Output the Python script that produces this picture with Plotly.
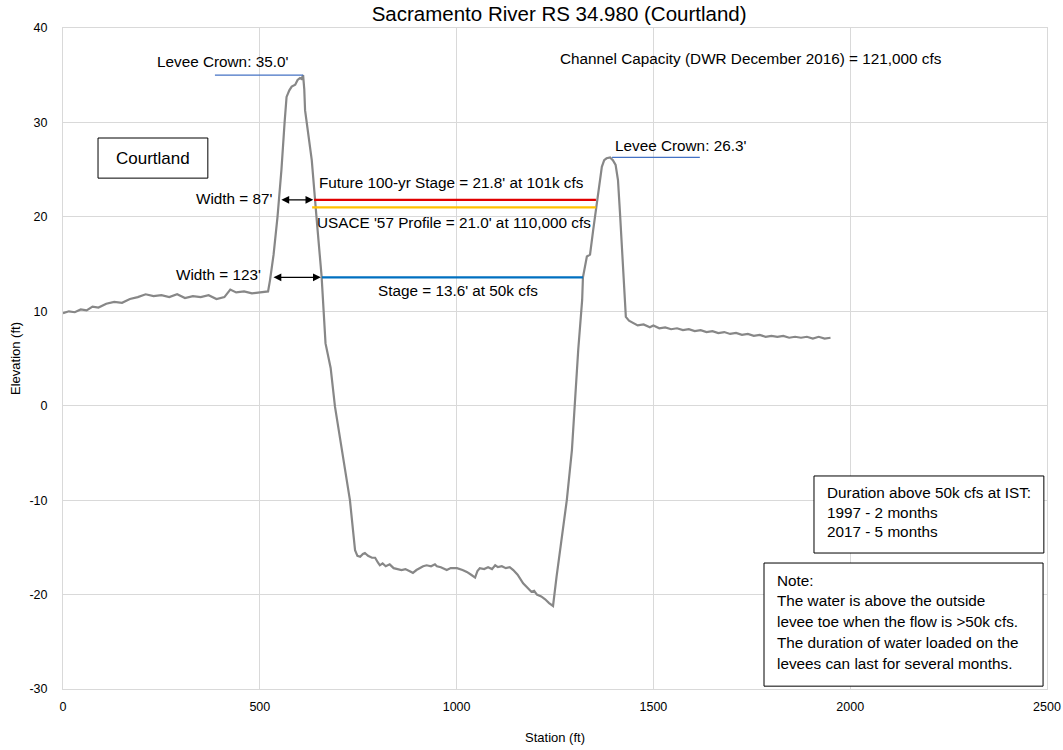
import plotly.graph_objects as go

# cross-section survey (station ft, elevation ft)
station = [0, 15, 30, 45, 60, 75, 90, 110, 130, 150, 170, 190, 210, 230, 250, 270, 290, 310, 330, 350,
           370, 390, 410, 425, 440, 460, 480, 500, 521,
           526, 535, 545, 555, 563, 568, 575, 581, 590, 596, 602, 606, 610, 613, 615, 622, 632, 645, 657, 667,
           680, 691, 710, 729, 742, 748, 755, 762, 767, 775, 785, 793, 800, 805, 812, 820, 830, 840, 850, 860,
           870, 880, 889, 898, 905, 915, 924, 935, 945, 950, 960, 975, 985, 1001, 1015, 1026, 1037, 1047, 1053,
           1059, 1070, 1080, 1090, 1098, 1105, 1115, 1125, 1135, 1144, 1155, 1169, 1180, 1190, 1197, 1204, 1215,
           1225, 1235, 1245, 1254, 1265, 1280, 1293, 1301, 1309, 1319, 1321, 1331, 1339, 1347, 1356, 1362, 1369,
           1375, 1381, 1390, 1397, 1404, 1410, 1415, 1420, 1425, 1430, 1438, 1448, 1460, 1475, 1491, 1500, 1515,
           1530, 1545, 1560, 1575, 1590, 1605, 1620, 1635, 1650, 1665, 1680, 1695, 1710, 1725, 1740, 1755, 1770,
           1785, 1800, 1815, 1830, 1845, 1860, 1875, 1890, 1905, 1920, 1935, 1950]
elevation = [9.8, 10.0, 9.9, 10.2, 10.1, 10.5, 10.4, 10.8, 11.0, 10.9, 11.3, 11.5, 11.8, 11.6, 11.7, 11.5, 11.8, 11.4, 11.6, 11.5,
             11.7, 11.3, 11.5, 12.3, 12.0, 12.1, 11.9, 12.0, 12.1,
             13.3, 16.0, 20.0, 25.0, 30.0, 32.7, 33.4, 33.8, 34.0, 34.5, 34.7, 34.6, 35.0, 33.5, 31.3, 29.0, 26.0, 19.5, 13.7, 6.6,
             4.0, -0.1, -5.0, -10.0, -15.3, -15.9, -16.0, -15.7, -15.6, -15.9, -16.1, -16.1, -16.6, -16.9, -16.7, -17.0, -16.8, -17.2, -17.3, -17.4,
             -17.3, -17.5, -17.7, -17.4, -17.2, -17.0, -16.9, -17.0, -16.8, -17.0, -17.1, -17.4, -17.2, -17.2, -17.4, -17.6, -17.9, -18.2, -17.5,
             -17.2, -17.3, -17.1, -17.3, -16.9, -17.1, -17.0, -17.2, -17.1, -17.4, -17.9, -18.8, -19.3, -19.7, -19.6, -20.0, -20.2,
             -20.5, -20.9, -21.2, -18.1, -14.5, -10.0, -4.7, 0.6, 5.9, 11.2, 13.6, 15.8, 16.0, 18.6, 21.5, 23.5, 25.3,
             26.0, 26.2, 26.3, 26.0, 25.5, 23.9, 20.5, 16.8, 13.0, 9.4, 9.0, 8.8, 8.5, 8.6, 8.3, 8.5, 8.2,
             8.3, 8.1, 8.2, 8.0, 8.1, 7.9, 8.0, 7.8, 7.9, 7.7, 7.8, 7.6, 7.7, 7.5, 7.6, 7.4, 7.5,
             7.3, 7.4, 7.3, 7.4, 7.2, 7.3, 7.2, 7.3, 7.1, 7.3, 7.1, 7.2]

# reference lines
left_crown_x = [386, 610]
left_crown_y = [35.0, 35.0]
right_crown_x = [1395, 1618]
right_crown_y = [26.3, 26.3]
future_x = [638, 1354]
future_y = [21.8, 21.8]
usace_x = [633, 1354]
usace_y = [21.0, 21.0]
stage_x = [658, 1321]
stage_y = [13.6, 13.6]

# axis ticks (plain hyphen minus like the original)
y_ticks = [-30, -20, -10, 0, 10, 20, 30, 40]
y_tick_text = ["-30", "-20", "-10", "0", "10", "20", "30", "40"]

FONT = "Liberation Sans"
TXT = 15.3

fig = go.Figure()
fig.add_trace(go.Scatter(x=station, y=elevation, mode="lines",
                         line=dict(color="#878787", width=2.2)))
fig.add_trace(go.Scatter(x=left_crown_x, y=left_crown_y, mode="lines", line=dict(color="#4472C4", width=1.2)))
fig.add_trace(go.Scatter(x=right_crown_x, y=right_crown_y, mode="lines", line=dict(color="#4472C4", width=1.2)))
fig.add_trace(go.Scatter(x=future_x, y=future_y, mode="lines", line=dict(color="#E00000", width=2.2)))
fig.add_trace(go.Scatter(x=usace_x, y=usace_y, mode="lines", line=dict(color="#FFC000", width=2.2)))
fig.add_trace(go.Scatter(x=stage_x, y=stage_y, mode="lines", line=dict(color="#0070C0", width=2.2)))

def note(x, y, text, anchor="left", size=TXT):
    fig.add_annotation(x=x, y=y, xref="x", yref="y", text=text, showarrow=False,
                       xanchor=anchor, yanchor="middle",
                       font=dict(family=FONT, size=size, color="#000000"))

note(406, 36.4, "Levee Crown: 35.0'", "center")
note(1397, 27.6, "Levee Crown: 26.3'", "left")
note(1748, 36.8, "Channel Capacity (DWR December 2016) = 121,000 cfs", "center")
note(538, 21.9, "Width = 87'", "right")
note(646, 23.6, "Future 100-yr Stage = 21.8' at 101k cfs", "left")
note(641, 19.45, "USACE '57 Profile = 21.0' at 110,000 cfs", "left")
note(508, 13.85, "Width = 123'", "right")
note(795, 12.15, "Stage = 13.6' at 50k cfs", "left")

# double-headed width arrows
for x0, x1, y in [(551, 636, 21.8), (531, 655, 13.6)]:
    fig.add_annotation(x=x1, y=y, ax=x0, ay=y, xref="x", yref="y", axref="x", ayref="y",
                       text="", showarrow=True, arrowhead=2, arrowside="end+start",
                       arrowsize=1.3, arrowwidth=1.2, arrowcolor="#000000")

# text boxes
fig.add_shape(type="rect", x0=89, x1=368, y0=24.1, y1=28.35, line=dict(color="#000000", width=1))
note(229, 26.2, "Courtland", "center", 17)

fig.add_shape(type="rect", x0=1908, x1=2492, y0=-15.6, y1=-7.44,
              line=dict(color="#000000", width=1), fillcolor="white")
for y, t in zip([-9.14, -11.26, -13.37],
                ["Duration above 50k cfs at IST:", "1997 - 2 months", "2017 - 5 months"]):
    note(1936, y, t)

fig.add_shape(type="rect", x0=1781, x1=2490, y0=-29.7, y1=-16.66,
              line=dict(color="#000000", width=1), fillcolor="white")
for y, t in zip([-18.46, -20.68, -22.9, -25.1, -27.35],
                ["Note:", "The water is above the outside", "levee toe when the flow is >50k cfs.",
                 "The duration of water loaded on the", "levees can last for several months."]):
    note(1809, y, t)

fig.update_layout(
    width=1063, height=750,
    margin=dict(l=63, r=16, t=28, b=61, autoexpand=False),
    paper_bgcolor="white", plot_bgcolor="white",
    showlegend=False,
    title=dict(text="Sacramento River RS 34.980 (Courtland)", x=0.526, xanchor="center",
               y=0.981, yanchor="middle", font=dict(family=FONT, size=20.5, color="#000000")),
    font=dict(family=FONT, color="#404040"),
)
fig.update_xaxes(range=[0, 2500], dtick=500, tick0=0, showgrid=True, gridcolor="#D9D9D9",
                 zeroline=False, showline=True, linecolor="#D9D9D9", mirror=True, automargin=False,
                 ticks="", ticklabelstandoff=6, tickfont=dict(size=12.5, color="#000000"),
                 title=dict(text="Station (ft)", font=dict(size=13, color="#000000"), standoff=19))
fig.update_yaxes(range=[-30, 40], tickvals=y_ticks, ticktext=y_tick_text, showgrid=True, gridcolor="#D9D9D9",
                 zeroline=False, showline=True, linecolor="#D9D9D9", mirror=True, automargin=False,
                 ticks="", ticklabelstandoff=12, tickfont=dict(size=12.5, color="#000000"),
                 title=dict(text="Elevation (ft)", font=dict(size=13, color="#000000"), standoff=5))

# drop the default page margin so the figure sits at the window corner
fig.write_html("out.html", config={"displayModeBar": False},
               post_script="document.body.style.margin = '0';")
